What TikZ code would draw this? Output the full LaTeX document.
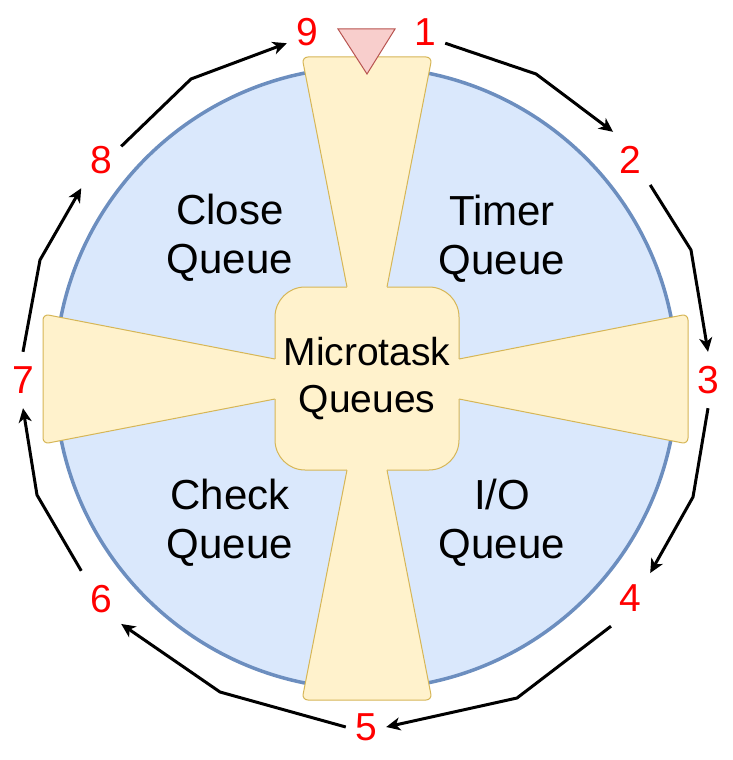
\documentclass[tikz,border=0pt]{standalone}
\usepackage{fontspec}
\setmainfont{Liberation Sans}
\usetikzlibrary{arrows.meta}
\definecolor{ringfill}{HTML}{DAE8FC}
\definecolor{ringline}{HTML}{6C8EBF}
\definecolor{trapfill}{HTML}{FFF2CC}
\definecolor{trapline}{HTML}{D6B656}
\definecolor{markfill}{HTML}{F8CECC}
\definecolor{markline}{HTML}{B85450}
\definecolor{numred}{HTML}{FF0000}

\begin{document}
\begin{tikzpicture}[x = 1pt, y = -1pt]
\tikzstyle{NumStyle}=[shape = rectangle,
                      minimum width = 40pt,
                      minimum height = 56pt,
                      inner sep = 0pt,
                      text = numred,
                      font = \fontsize{39}{46}\selectfont]
\tikzstyle{QueueText}=[align = center, font = \fontsize{42}{49}\selectfont]
\tikzstyle{StepArrow}=[line width = 3pt, -{Stealth[length = 14pt, width = 13pt, inset = 4pt]}]
\tikzstyle{TrapFill}=[fill = trapfill, rounded corners = 6pt]
\tikzstyle{TrapLine}=[draw = trapline, line width = 1pt, rounded corners = 6pt]
\useasboundingbox (0,0) rectangle (733,760);
% ring and centre box
\draw[fill = ringfill, draw = ringline, line width = 3.5pt] (366,378) circle [radius = 311pt];
\draw[fill = trapfill, draw = trapline, line width = 1pt, rounded corners = 30pt] (275,287) rectangle (459,470);
% the four arms
\fill[TrapFill] (349.5,300) -- (302,57) -- (432,57) -- (384.5,300) -- cycle;
\fill[TrapFill] (349.5,457) -- (302,700) -- (432,700) -- (384.5,457) -- cycle;
\fill[TrapFill] (446,361.5) -- (688,314) -- (688,444) -- (446,396.5) -- cycle;
\fill[TrapFill] (288,361.5) -- (43,314) -- (43,444) -- (288,396.5) -- cycle;
\draw[TrapLine] (347,287) -- (302,57) -- (432,57) -- (387,287);
\draw[TrapLine] (347,470) -- (302,700) -- (432,700) -- (387,470);
\draw[TrapLine] (459,359) -- (688,314) -- (688,444) -- (459,399);
\draw[TrapLine] (275,359) -- (43,314) -- (43,444) -- (275,399);
\draw[fill = markfill, draw = markline, line width = 1pt] (338,29) -- (395,29) -- (367,74) -- cycle;
% labels
\node[QueueText, font = \fontsize{39}{47}\selectfont] (micro) at (367,379) {Microtask\\Queues};
\node[QueueText] (close) at (230,238) {Close\\Queue};
\node[QueueText] (timer) at (502,238.5) {Timer\\Queue};
\node[QueueText] (io) at (502,522.5) {I/O\\Queue};
\node[QueueText] (check) at (230,522.5) {Check\\Queue};
\node[NumStyle] (n1) at (425,32) {1};
\node[NumStyle] (n2) at (630,160) {2};
\node[NumStyle] (n3) at (708,380) {3};
\node[NumStyle] (n4) at (630,598) {4};
\node[NumStyle] (n5) at (366,727) {5};
\node[NumStyle] (n6) at (101,599) {6};
\node[NumStyle] (n7) at (23,380) {7};
\node[NumStyle] (n8) at (101,160) {8};
\node[NumStyle] (n9) at (307,32) {9};
\coordinate (b12) at (536,74);
\coordinate (b23) at (691,250);
\coordinate (b34) at (693,497);
\coordinate (b45) at (517,698);
\coordinate (b56) at (220,692);
\coordinate (b67) at (37,495);
\coordinate (b78) at (40,260);
\coordinate (b89) at (191,79);
\draw[StepArrow] (n1.331) -- (b12) -- (n2.121);
\draw[StepArrow] (n2.309) -- (b23) -- (n3.90);
\draw[StepArrow] (n3.270) -- (b34) -- (n4.51);
\draw[StepArrow] (n4.236) -- (b45) -- (n5.0);
\draw[StepArrow] (n5.180) -- (b56) -- (n6.309);
\draw[StepArrow] (n6.125) -- (b67) -- (n7.270);
\draw[StepArrow] (n7.90) -- (b78) -- (n8.235);
\draw[StepArrow] (n8.34) -- (b89) -- (n9.209);
\end{tikzpicture}
\end{document}
